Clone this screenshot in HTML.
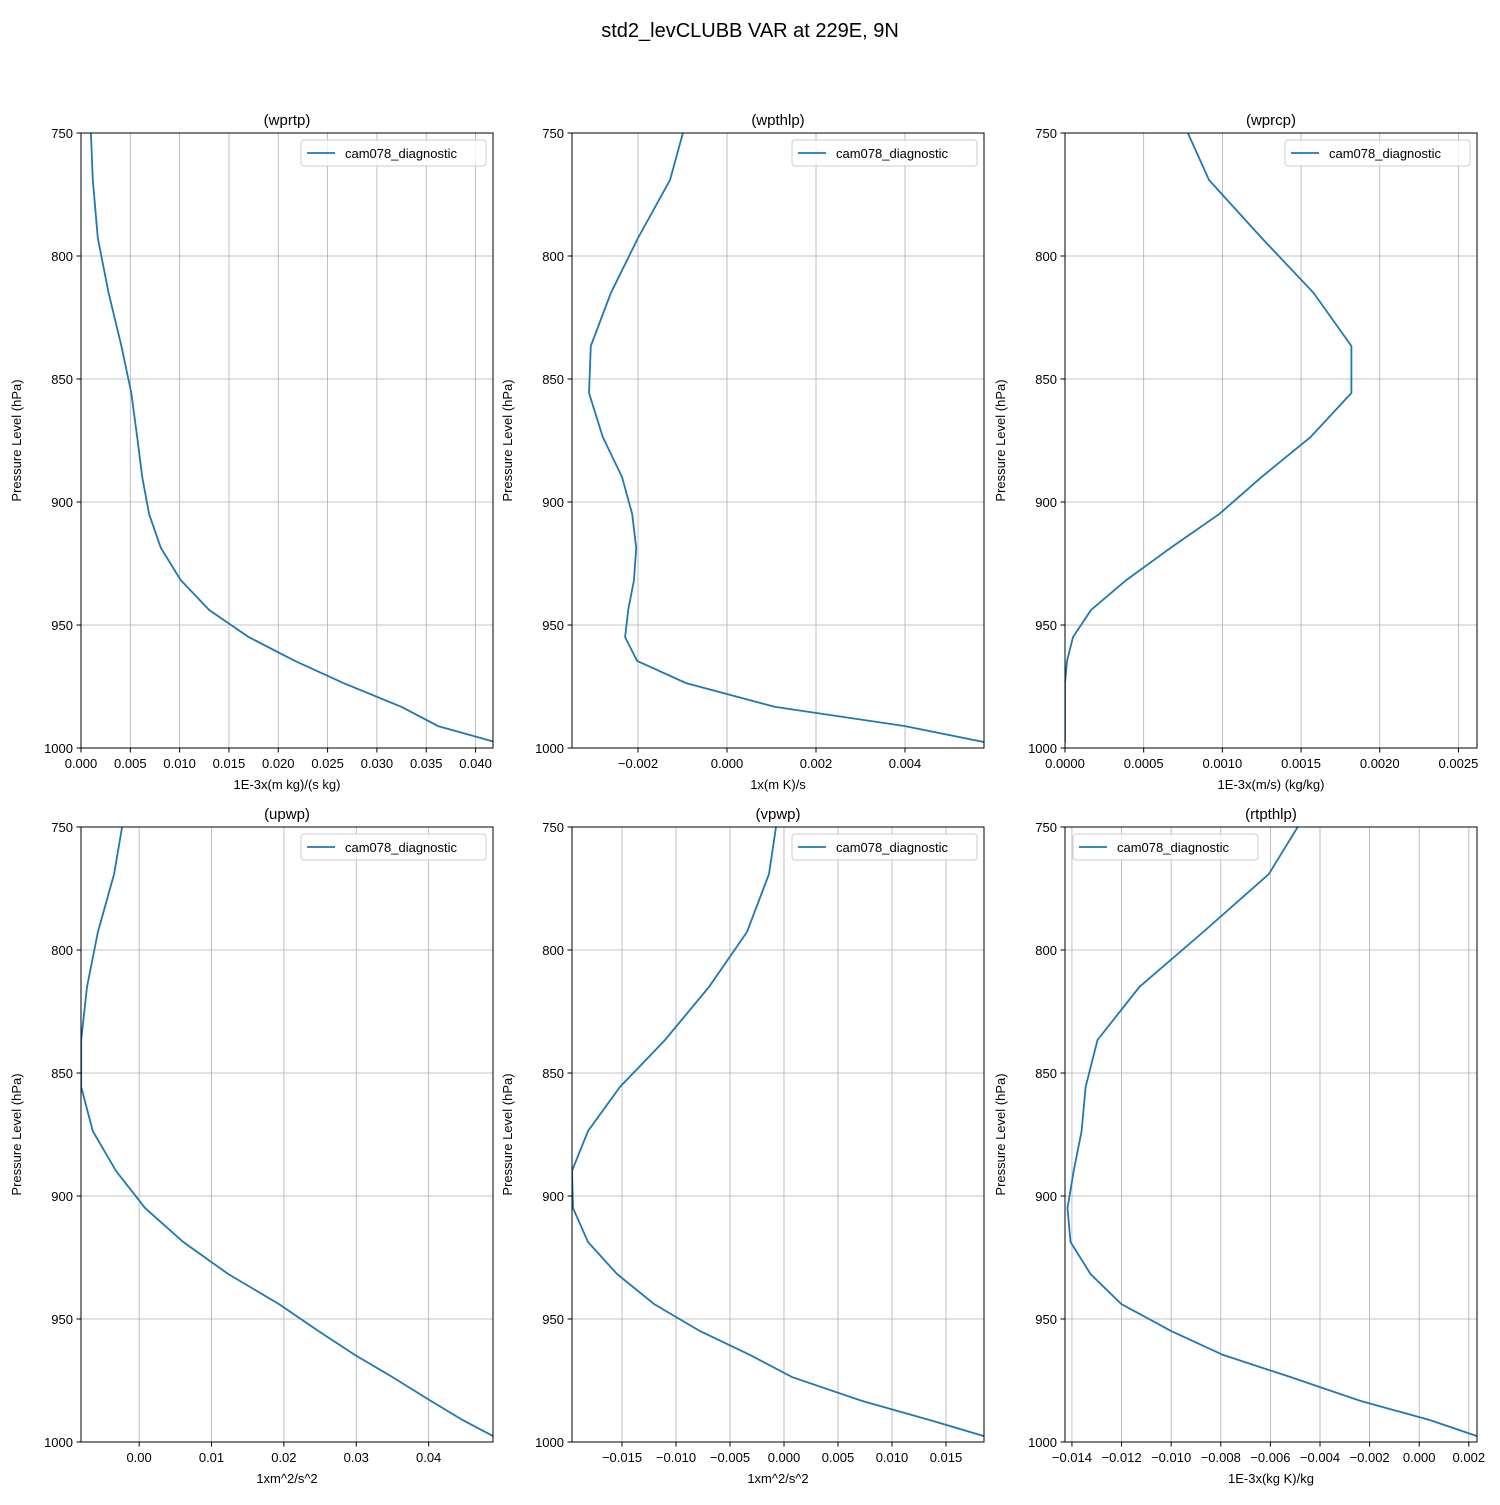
<!DOCTYPE html>
<html><head><meta charset="utf-8">
<style>
body{margin:0;background:#fff;}
svg text{font-family:"Liberation Sans","DejaVu Sans",sans-serif;}
</style></head>
<body>
<svg id="fig" width="1500" height="1500" xmlns="http://www.w3.org/2000/svg">
<rect width="1500" height="1500" fill="#fff"/>
<text x="750" y="37" font-size="20" text-anchor="middle">std2_levCLUBB VAR at 229E, 9N</text>
</svg>
<script>
const levels = [750, 769.1, 792.7, 815.0, 836.6, 855.7, 873.6, 889.8, 904.9, 918.7, 931.7, 943.9, 954.9, 964.6, 973.6, 983.3, 991.1, 997.6];
const wprtpVals = [0.0010,0.0012,0.0017,0.0028,0.0041,0.0051,0.0057,0.0062,0.0069,0.0081,0.0101,0.0130,0.0170,0.0217,0.0266,0.0325,0.0362,0.0420];
const wpthlpVals = [-0.00099,-0.00128,-0.0020,-0.00261,-0.00306,-0.00310,-0.00279,-0.00236,-0.00213,-0.00204,-0.00209,-0.00222,-0.00229,-0.00202,-0.00092,0.00108,0.00400,0.00578];
const wprcpVals = [0.000781,0.000915,0.00125,0.00158,0.00182,0.00182,0.00156,0.00125,0.00098,0.00067,0.00039,0.000165,0.000051,0.000013,0,0,0,0];
const upwpVals = [-0.00235,-0.00346,-0.0057,-0.0072,-0.0080,-0.0080,-0.0064,-0.0032,0.00083,0.0061,0.0123,0.0193,0.0248,0.0298,0.0350,0.0403,0.0447,0.0489];
const vpwpVals = [-0.00074,-0.00139,-0.00343,-0.00694,-0.01102,-0.01519,-0.01815,-0.01963,-0.01954,-0.01815,-0.01546,-0.01204,-0.00778,-0.00315,0.00074,0.00722,0.01352,0.01852];
const rtpthlpVals = [-0.0049,-0.00606,-0.00871,-0.01128,-0.01297,-0.01345,-0.01361,-0.01393,-0.01418,-0.01406,-0.01325,-0.01201,-0.01000,-0.00791,-0.00518,-0.00237,0.00044,0.00233];
const yTicks = [750, 800, 850, 900, 950, 1000];
const ticks1 = [0,0.005,0.010,0.015,0.020,0.025,0.030,0.035,0.040];
const ticks2 = [-0.002,0,0.002,0.004];
const ticks3 = [0,0.0005,0.0010,0.0015,0.0020,0.0025];
const ticks4 = [0,0.01,0.02,0.03,0.04];
const ticks5 = [-0.015,-0.010,-0.005,0,0.005,0.010,0.015];
const ticks6 = [-0.014,-0.012,-0.010,-0.008,-0.006,-0.004,-0.002,0,0.002];

const NS = "http://www.w3.org/2000/svg";
const svg = document.getElementById('fig');
function mk(tag, attrs, parent){const e=document.createElementNS(NS,tag);for(const k in attrs)e.setAttribute(k,attrs[k]);(parent||svg).appendChild(e);return e;}

const panels = [
 {name:'wprtp',vals:wprtpVals,ticks:ticks1,dec:3,xmin:0,xmax:0.04177,x0:81,y0:133,xl:'1E-3x(m kg)/(s kg)',legLeft:false},
 {name:'wpthlp',vals:wpthlpVals,ticks:ticks2,dec:3,xmin:-0.003483,xmax:0.005775,x0:572,y0:133,xl:'1x(m K)/s',legLeft:false},
 {name:'wprcp',vals:wprcpVals,ticks:ticks3,dec:4,xmin:0,xmax:0.002618,x0:1065,y0:133,xl:'1E-3x(m/s) (kg/kg)',legLeft:false},
 {name:'upwp',vals:upwpVals,ticks:ticks4,dec:2,xmin:-0.00803,xmax:0.04889,x0:81,y0:827,xl:'1xm^2/s^2',legLeft:false},
 {name:'vpwp',vals:vpwpVals,ticks:ticks5,dec:3,xmin:-0.01963,xmax:0.01852,x0:572,y0:827,xl:'1xm^2/s^2',legLeft:false},
 {name:'rtpthlp',vals:rtpthlpVals,ticks:ticks6,dec:3,xmin:-0.01428,xmax:0.00233,x0:1065,y0:827,xl:'1E-3x(kg K)/kg',legLeft:true}
];
const W=412, H=615;
panels.forEach(p=>{
  const g = mk('g',{});
  
  
  const sx = v => p.x0 + (v-p.xmin)/(p.xmax-p.xmin)*W;
  const sy = v => p.y0 + (v-750)/250*H;
  const cid='clip-'+p.name;
  const cp=mk('clipPath',{id:cid},g); mk('rect',{x:p.x0,y:p.y0,width:W,height:H},cp);
  // grid + ticks
  p.ticks.forEach(t=>{
    const x=sx(t);
    const gl=mk('line',{x1:x,x2:x,y1:p.y0,y2:p.y0+H,stroke:'#b0b0b0','stroke-width':0.8},g);
    
    
    mk('line',{x1:x,x2:x,y1:p.y0+H,y2:p.y0+H+4.5,stroke:'#000','stroke-width':1},g);
    const lab = (t<0?'\u2212':'')+Math.abs(t).toFixed(p.dec);
    const tx=mk('text',{x:x,y:p.y0+H+20,'font-size':13,'text-anchor':'middle'},g);
    tx.textContent=lab;
    
    
  });
  yTicks.forEach(t=>{
    const y=sy(t);
    const gl=mk('line',{x1:p.x0,x2:p.x0+W,y1:y,y2:y,stroke:'#b0b0b0','stroke-width':0.8},g);
    
    
    mk('line',{x1:p.x0-4.5,x2:p.x0,y1:y,y2:y,stroke:'#000','stroke-width':1},g);
    const tx=mk('text',{x:p.x0-8,y:y+5,'font-size':13,'text-anchor':'end'},g);
    tx.textContent=String(t);
    
    
  });
  // series
  const pts=p.vals.map((v,i)=>sx(v).toFixed(1)+','+sy(levels[i]).toFixed(1)).join(' ');
  const line=mk('polyline',{points:pts,fill:'none',stroke:'#1f77b4','stroke-width':1.8,'clip-path':'url(#'+cid+')'},g);
  
  
  // frame
  mk('rect',{x:p.x0,y:p.y0,width:W,height:H,fill:'none',stroke:'#000','stroke-width':1},g);
  // title
  const tt=mk('text',{x:p.x0+W/2,y:p.y0-8,'font-size':15,'text-anchor':'middle'},g);
  tt.textContent='('+p.name+')';
  
  
  const xl=mk('text',{x:p.x0+W/2,y:p.y0+H+41,'font-size':13,'text-anchor':'middle'},g);
  xl.textContent=p.xl;
  
  
  const ylx=p.x0-60, yly=p.y0+H/2;
  const yl=mk('text',{x:ylx,y:yly,'font-size':13,'text-anchor':'middle',transform:'rotate(-90 '+ylx+' '+yly+')'},g);
  yl.textContent='Pressure Level (hPa)';
  
  
  // legend
  const lw=185, lx=p.legLeft? p.x0+8 : p.x0+W-lw-7, ly=p.y0+7;
  const lg=mk('g',{},g);
  
  
  mk('rect',{x:lx,y:ly,width:lw,height:26,rx:3,fill:'#fff','fill-opacity':0.8,stroke:'#ccc','stroke-width':1},lg);
  mk('line',{x1:lx+6,x2:lx+34,y1:ly+13,y2:ly+13,stroke:'#1f77b4','stroke-width':1.8},lg);
  const lt=mk('text',{x:lx+44,y:ly+18,'font-size':13},lg);
  lt.textContent='cam078_diagnostic';
  
  
});
</script>
</body></html>
